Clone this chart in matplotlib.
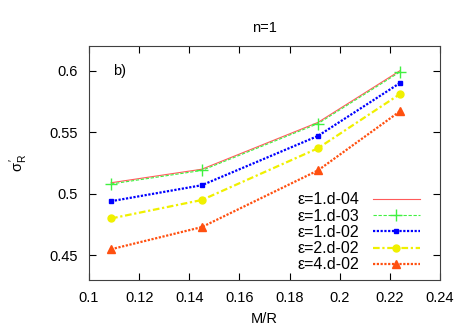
import numpy as np
import matplotlib.pyplot as plt

plt.rcParams['font.family'] = ['Liberation Sans', 'DejaVu Sans']
plt.rcParams['font.size'] = 10.5

# data
m_over_r = [0.1088, 0.145, 0.1913, 0.224]
eps_labels = ['ε=1.d-04', 'ε=1.d-03', 'ε=1.d-02', 'ε=2.d-02', 'ε=4.d-02']
sigma = [
    [0.509, 0.520, 0.558, 0.600],
    [0.508, 0.519, 0.557, 0.599],
    [0.494, 0.507, 0.547, 0.590],
    [0.480, 0.495, 0.537, 0.581],
    [0.455, 0.473, 0.519, 0.567],
]

colors = ['#ff5a5a', '#40f040', '#0000ff', '#f0f000', '#ff5010']
styles = ['-', (0, (3, 1.5)), (0, (1, 0.7)), (0, (3, 1.2, 1, 1.2)), (0, (1, 0.7))]
markers = [None, '+', 's', 'o', '^']
widths = [0.8, 0.8, 1.6, 1.6, 1.6]
msizes = [0, 8, 3.5, 5, 5.5]

fig = plt.figure(figsize=(4.67, 3.27), dpi=100)
ax = fig.add_axes([0.1906, 0.1437, 0.7516, 0.7153])

for lab, ys, c, ls, mk, lw, ms in zip(eps_labels, sigma, colors, styles, markers, widths, msizes):
    ax.plot(m_over_r, ys, color=c, linestyle=ls, marker=mk, lw=lw, ms=ms,
            mew=1, label=lab)

ax.set_xlim(0.1, 0.24)
ax.set_ylim(0.43, 0.62)
ax.set_xticks(np.arange(0.1, 0.2401, 0.02))
ax.set_xticklabels(['0.1', '0.12', '0.14', '0.16', '0.18', '0.2', '0.22', '0.24'])
ax.set_yticks([0.45, 0.5, 0.55, 0.6])
ax.set_yticklabels(['0.45', '0.5', '0.55', '0.6'])
ax.tick_params(direction='in', top=True, right=True, length=5, pad=8)
for s in ax.spines.values():
    s.set_color('#404040')

ax.set_xlabel('M/R', labelpad=5)
ax.set_ylabel("$\\mathregular{\\sigma_R^{\\,\\prime}}$", labelpad=14)
ax.set_title('n=1', pad=10, fontsize=10.5)
ax.text(0.1095, 0.6, 'b)', va='center', ha='left')

ax.legend(loc='lower right', frameon=False, markerfirst=False, handlelength=2.9,
          labelspacing=0.08, borderaxespad=0.0, handletextpad=0.9, fontsize=11.5,
          bbox_to_anchor=(0.96, 0.005))

fig.savefig('out.png', dpi=100)
